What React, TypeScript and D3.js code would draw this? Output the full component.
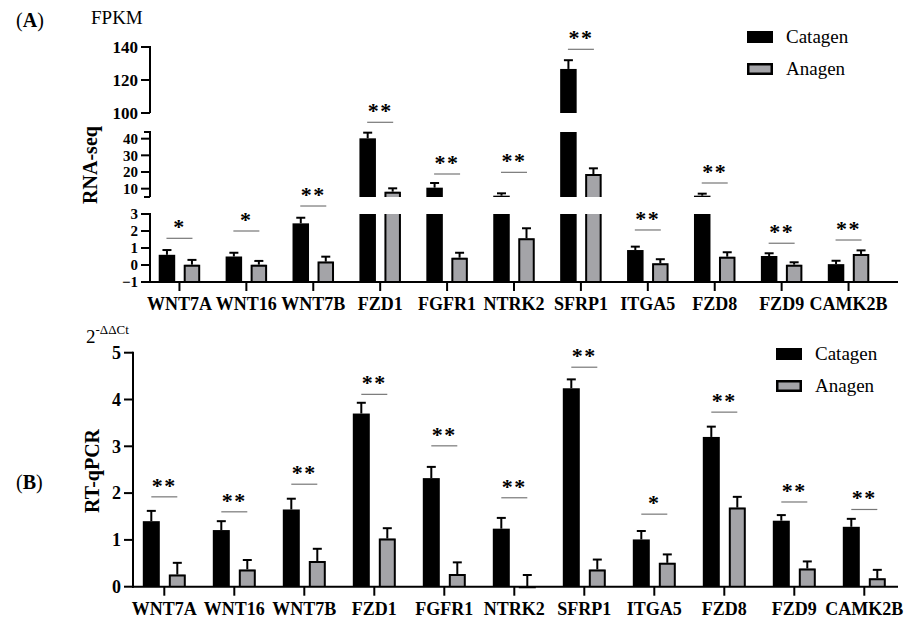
import React, { useRef, useEffect } from "react";
import * as d3 from "d3";

// genes on the x axis (same order in both panels)
const genes = [
  "WNT7A",
  "WNT16",
  "WNT7B",
  "FZD1",
  "FGFR1",
  "NTRK2",
  "SFRP1",
  "ITGA5",
  "FZD8",
  "FZD9",
  "CAMK2B",
];
const series = ["Catagen", "Anagen"];

// (A) RNA-seq, FPKM
const rnaCatagen = [0.6, 0.5, 2.45, 40.2, 10.6, 5.8, 126.7, 0.88, 5.8, 0.53, 0.05];
const rnaCatagenErr = [0.28, 0.22, 0.33, 3.4, 2.8, 1.4, 5.3, 0.2, 1.2, 0.16, 0.2];
const rnaAnagen = [0.02, 0.02, 0.2, 8.2, 0.43, 1.57, 18.8, 0.1, 0.49, 0.02, 0.65];
const rnaAnagenErr = [0.28, 0.22, 0.29, 2.0, 0.29, 0.59, 3.4, 0.24, 0.26, 0.14, 0.21];
const rnaSig = ["*", "*", "**", "**", "**", "**", "**", "**", "**", "**", "**"];
const rnaSigLevel = [1.57, 2.0, 3.94, 72.6, 18.8, 19.8, 138.6, 2.06, 13.4, 1.28, 1.47];
// broken y axis segments
const rnaSegments = [
  { lo: -1, hi: 3, ticks: [-1, 0, 1, 2, 3], fs: 15 },
  { lo: 5, hi: 44, ticks: [10, 20, 30, 40], fs: 15 },
  { lo: 100, hi: 140, ticks: [100, 120, 140], fs: 17 },
];

// (B) RT-qPCR, 2^-ddCt
const qCatagen = [1.4, 1.21, 1.65, 3.7, 2.32, 1.24, 4.24, 1.01, 3.2, 1.41, 1.28];
const qCatagenErr = [0.22, 0.19, 0.23, 0.23, 0.24, 0.23, 0.19, 0.18, 0.22, 0.12, 0.17];
const qAnagen = [0.26, 0.37, 0.55, 1.03, 0.27, 0.01, 0.37, 0.51, 1.69, 0.39, 0.18];
const qAnagenErr = [0.25, 0.2, 0.26, 0.22, 0.25, 0.24, 0.21, 0.18, 0.23, 0.15, 0.18];
const qSig = ["**", "**", "**", "**", "**", "**", "**", "*", "**", "**", "**"];
const qSigLevel = [1.92, 1.6, 2.19, 4.11, 3.01, 1.9, 4.69, 1.55, 3.73, 1.81, 1.65];
const qSegments = [{ lo: 0, hi: 5, ticks: [0, 1, 2, 3, 4, 5], fs: 18 }];

const FONT = '"Liberation Serif", "DejaVu Serif", serif';
const GREY = "#a4a4a8";
const fmt = d3.format("");

type G = d3.Selection<SVGGElement, unknown, null, undefined>;

interface PanelOpts {
  y: d3.ScaleLinear<number, number>;
  x: d3.ScaleBand<string>;
  segments: { lo: number; hi: number; ticks: number[]; fs: number }[];
  axisX: number;
  axisRight: number;
  barW: number;
  barGap: number;
  values: number[][];
  errs: number[][];
  sig: string[];
  sigLevel: number[];
}

const txt = (g: G) => g.append("text").style("font-family", FONT);

function drawPanel(g: G, o: PanelOpts) {
  const { y, x, segments, axisX } = o;
  const base = segments[0].lo;
  const y0 = y(base);
  const half = x.bandwidth() / 2;
  const step = o.barGap + o.barW;
  const sub = d3
    .scaleBand<string>()
    .domain(series)
    .range([-step / 2 - o.barW / 2, step / 2 + o.barW / 2])
    .paddingInner(o.barGap / step);

  // bars, split over the axis segments
  series.forEach((s, si) => {
    genes.forEach((gene, i) => {
      const v = o.values[si][i];
      const cx = x(gene)! + half + sub(s)! + sub.bandwidth() / 2;
      const x0 = cx - o.barW / 2;
      const x1 = cx + o.barW / 2;
      segments.forEach((seg) => {
        if (v <= seg.lo) return;
        const top = Math.min(v, seg.hi);
        const clipped = v > seg.hi;
        if (si === 0) {
          g.append("rect")
            .attr("x", x0)
            .attr("y", y(top))
            .attr("width", o.barW)
            .attr("height", y(seg.lo) - y(top))
            .attr("fill", "#000");
        } else {
          g.append("rect")
            .attr("x", x0 + 1)
            .attr("y", y(top))
            .attr("width", o.barW - 2)
            .attr("height", y(seg.lo) - y(top))
            .attr("fill", GREY);
          const p = d3.path();
          p.moveTo(x0 + 1, y(seg.lo));
          p.lineTo(x0 + 1, y(top) + (clipped ? 0 : 1));
          if (clipped) p.moveTo(x1 - 1, y(top));
          else p.lineTo(x1 - 1, y(top) + 1);
          p.lineTo(x1 - 1, y(seg.lo));
          g.append("path")
            .attr("d", p.toString())
            .attr("fill", "none")
            .attr("stroke", "#000")
            .attr("stroke-width", 2);
        }
      });
      // upper error bar
      const e = v + o.errs[si][i];
      g.append("line")
        .attr("x1", cx)
        .attr("x2", cx)
        .attr("y1", y(v))
        .attr("y2", y(e))
        .attr("stroke", "#000")
        .attr("stroke-width", 2);
      g.append("line")
        .attr("x1", cx - 4.5)
        .attr("x2", cx + 4.5)
        .attr("y1", y(e))
        .attr("y2", y(e))
        .attr("stroke", "#000")
        .attr("stroke-width", 2);
    });
  });

  // significance marks
  genes.forEach((gene, i) => {
    const cx = x(gene)! + half;
    const ys = y(o.sigLevel[i]);
    g.append("line")
      .attr("x1", cx - 13)
      .attr("x2", cx + 13)
      .attr("y1", ys)
      .attr("y2", ys)
      .attr("stroke", "#777")
      .attr("stroke-width", 1.2);
    txt(g)
      .attr("x", cx)
      .attr("y", ys - 4)
      .attr("text-anchor", "middle")
      .attr("font-size", 22)
      .attr("font-weight", "bold")
      .attr("letter-spacing", 1.5)
      .text(o.sig[i]);
  });

  // y axis, one piece per segment
  segments.forEach((seg, k) => {
    g.append("line")
      .attr("x1", axisX)
      .attr("x2", axisX)
      .attr("y1", k === 0 ? y0 + 1 : y(seg.lo))
      .attr("y2", y(seg.hi) - 1)
      .attr("stroke", "#000")
      .attr("stroke-width", 2);
    [seg.lo, seg.hi].forEach((t) => {
      if (seg.ticks.includes(t)) return;
      g.append("line")
        .attr("x1", axisX - 6)
        .attr("x2", axisX)
        .attr("y1", y(t))
        .attr("y2", y(t))
        .attr("stroke", "#000")
        .attr("stroke-width", 2);
    });
    seg.ticks.forEach((t) => {
      g.append("line")
        .attr("x1", axisX - 9)
        .attr("x2", axisX)
        .attr("y1", y(t))
        .attr("y2", y(t))
        .attr("stroke", "#000")
        .attr("stroke-width", 2);
      txt(g)
        .attr("x", axisX - 12)
        .attr("y", y(t))
        .attr("dy", "0.35em")
        .attr("text-anchor", "end")
        .attr("font-size", seg.fs)
        .attr("font-weight", "bold")
        .text(fmt(t));
    });
  });

  // x axis
  g.append("line")
    .attr("x1", axisX - 1)
    .attr("x2", o.axisRight)
    .attr("y1", y0)
    .attr("y2", y0)
    .attr("stroke", "#000")
    .attr("stroke-width", 2);
  genes.forEach((gene) => {
    const cx = x(gene)! + half;
    g.append("line")
      .attr("x1", cx)
      .attr("x2", cx)
      .attr("y1", y0)
      .attr("y2", y0 + 9)
      .attr("stroke", "#000")
      .attr("stroke-width", 2);
    txt(g)
      .attr("x", cx)
      .attr("y", y0 + 28)
      .attr("text-anchor", "middle")
      .attr("font-size", 18)
      .attr("font-weight", "bold")
      .text(gene);
  });
}

function drawLegend(g: G, lx: number, ly: number) {
  series.forEach((s, i) => {
    const yy = ly + i * 32;
    if (i === 0) {
      g.append("rect").attr("x", lx).attr("y", yy).attr("width", 26).attr("height", 12).attr("fill", "#000");
    } else {
      g.append("rect")
        .attr("x", lx + 1.25)
        .attr("y", yy + 1.25)
        .attr("width", 23.5)
        .attr("height", 9.5)
        .attr("fill", GREY)
        .attr("stroke", "#000")
        .attr("stroke-width", 2.5);
    }
    txt(g)
      .attr("x", lx + 39)
      .attr("y", yy + 12)
      .attr("font-size", 19)
      .text(s);
  });
}

export default function App() {
  const svgRef = useRef<SVGSVGElement>(null);

  useEffect(() => {
    if (!svgRef.current) return;
    document.body.style.margin = "0";
    const svg = d3.select(svgRef.current);
    svg.selectAll("*").remove();

    // ---- panel A ----
    const gA = svg.append("g");
    const yA = d3
      .scaleLinear()
      .domain([-1, 3, 5, 44, 100, 140])
      .range([282, 214, 197, 132, 113, 47]);
    const xA = d3.scaleBand<string>().domain(genes).range([146, 882]);
    drawPanel(gA, {
      y: yA,
      x: xA,
      segments: rnaSegments,
      axisX: 150,
      axisRight: 898,
      barW: 16.5,
      barGap: 8.5,
      values: [rnaCatagen, rnaAnagen],
      errs: [rnaCatagenErr, rnaAnagenErr],
      sig: rnaSig,
      sigLevel: rnaSigLevel,
    });
    drawLegend(gA, 747, 31);

    const labA = txt(gA).attr("x", 16).attr("y", 27).attr("font-size", 20);
    labA.append("tspan").text("(");
    labA.append("tspan").attr("font-weight", "bold").text("A");
    labA.append("tspan").text(")");
    txt(gA).attr("x", 91).attr("y", 24).attr("font-size", 19).text("FPKM");
    txt(gA)
      .attr("transform", "translate(97,165) rotate(-90)")
      .attr("text-anchor", "middle")
      .attr("font-size", 20)
      .attr("font-weight", "bold")
      .text("RNA-seq");

    // ---- panel B ----
    const gB = svg.append("g");
    const yB = d3.scaleLinear().domain([0, 5]).range([586.7, 352.7]);
    const xB = d3.scaleBand<string>().domain(genes).range([129.3, 899.3]);
    drawPanel(gB, {
      y: yB,
      x: xB,
      segments: qSegments,
      axisX: 133,
      axisRight: 898,
      barW: 17,
      barGap: 9,
      values: [qCatagen, qAnagen],
      errs: [qCatagenErr, qAnagenErr],
      sig: qSig,
      sigLevel: qSigLevel,
    });
    drawLegend(gB, 776, 348);

    const labB = txt(gB).attr("x", 16).attr("y", 489).attr("font-size", 20);
    labB.append("tspan").text("(");
    labB.append("tspan").attr("font-weight", "bold").text("B");
    labB.append("tspan").text(")");
    const unit = txt(gB).attr("x", 86).attr("y", 343).attr("font-size", 19);
    unit.append("tspan").text("2");
    unit.append("tspan").attr("font-size", 13).attr("dy", -9).text("-ΔΔCt");
    txt(gB)
      .attr("transform", "translate(99,471) rotate(-90)")
      .attr("text-anchor", "middle")
      .attr("font-size", 20)
      .attr("font-weight", "bold")
      .text("RT-qPCR");

    return () => {
      svg.selectAll("*").remove();
    };
  }, []);

  return <svg ref={svgRef} width={907} height={624} style={{ display: "block", background: "#fff" }}></svg>;
}
